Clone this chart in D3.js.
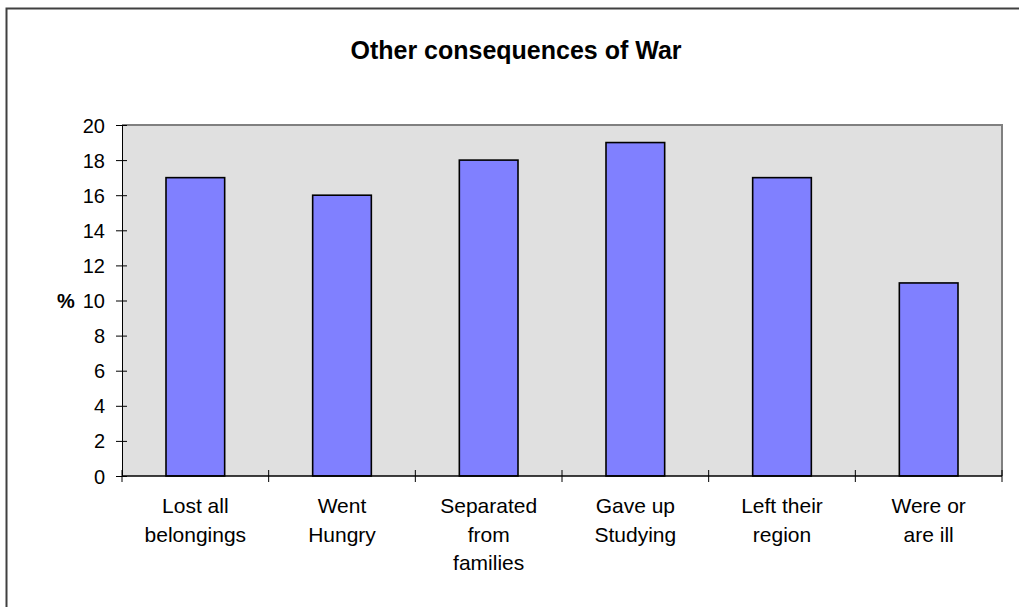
<!DOCTYPE html>
<html>
<head>
<meta charset="utf-8">
<script src="https://cdn.jsdelivr.net/npm/d3@7"></script>
<style>
html,body{margin:0;padding:0;background:#fff;}
svg{display:block;font-family:"Liberation Sans",Arial,sans-serif;}
</style>
</head>
<body>
<svg id="chart" width="1019" height="607"></svg>
<script>
const categories = [["Lost all","belongings"],["Went","Hungry"],["Separated","from","families"],["Gave up","Studying"],["Left their","region"],["Were or","are ill"]];
const values = [17, 16, 18, 19, 17, 11];
const yTicks = [0,2,4,6,8,10,12,14,16,18,20];
const title = "Other consequences of War";
const yLabel = "%";

const svg = d3.select("#chart");
const m = {left:122, top:125, right:1002, bottom:476};

// outer border (extends beyond right/bottom edge)
svg.append("rect").attr("x",6.5).attr("y",8.5).attr("width",1100).attr("height",700)
  .attr("fill","#fff").attr("stroke","#404040").attr("stroke-width",2);

const x = d3.scaleBand().domain(d3.range(categories.length)).range([m.left,m.right]).paddingInner(0.6).paddingOuter(0.3);
const xc = d3.scaleBand().domain(d3.range(categories.length)).range([m.left,m.right]);
const y = d3.scaleLinear().domain([0,20]).range([m.bottom,m.top]);

// plot area
svg.append("rect").attr("x",m.left).attr("y",m.top).attr("width",m.right-m.left).attr("height",m.bottom-m.top)
  .attr("fill","#E0E0E0");
svg.append("line").attr("x1",m.left).attr("x2",m.right+1).attr("y1",m.top).attr("y2",m.top).attr("stroke","#808080").attr("stroke-width",2);
svg.append("line").attr("x1",m.right).attr("x2",m.right).attr("y1",m.top).attr("y2",m.bottom).attr("stroke","#808080").attr("stroke-width",2);

// bars
svg.selectAll("rect.bar").data(values).enter().append("rect").attr("class","bar")
  .attr("x",(d,i)=>x(i)).attr("width",x.bandwidth())
  .attr("y",d=>y(d)).attr("height",d=>y(0)-y(d))
  .attr("fill","#8080FF").attr("stroke","#000").attr("stroke-width",1.6);

// y axis
const yAxis = d3.axisLeft(y).tickValues(yTicks).tickSizeInner(6).tickSizeOuter(0).tickPadding(11);
const gy = svg.append("g").attr("transform",`translate(${m.left},0)`).call(yAxis);
gy.select(".domain").attr("stroke","#000");
gy.selectAll(".tick line").attr("x2",-6).attr("x1",5).attr("stroke","#000");
gy.selectAll(".tick text").attr("font-size","20px").attr("fill","#000").attr("font-family","Liberation Sans, Arial, sans-serif").attr("dy","0.35em");

// x axis with ticks at category boundaries
const boundaries = d3.range(categories.length+1).map(i => i<categories.length ? xc(i) : m.right);
svg.append("line").attr("x1",m.left).attr("x2",m.right).attr("y1",m.bottom).attr("y2",m.bottom).attr("stroke","#000").attr("stroke-width",1.5);
svg.selectAll("line.xt").data(boundaries).enter().append("line").attr("class","xt")
  .attr("x1",d=>d).attr("x2",d=>d).attr("y1",m.bottom-6).attr("y2",m.bottom+6).attr("stroke","#000");

// x labels
const xl = svg.selectAll("text.xl").data(categories).enter().append("text").attr("class","xl")
  .attr("text-anchor","middle").attr("font-size","21px").attr("fill","#000");
xl.each(function(lines,i){
  const t = d3.select(this);
  lines.forEach((ln,k)=>{
    t.append("tspan").attr("x",xc(i)+xc.bandwidth()/2).attr("y",513+k*28.7).text(ln);
  });
});

// y label
svg.append("text").attr("x",66).attr("y",y(10)).attr("dy","0.35em").attr("text-anchor","middle")
  .attr("font-size","20px").attr("font-weight","bold").text(yLabel);

// title
svg.append("text").attr("x",516).attr("y",59).attr("text-anchor","middle")
  .attr("font-size","25px").attr("font-weight","bold").text(title);
</script>
</body>
</html>
